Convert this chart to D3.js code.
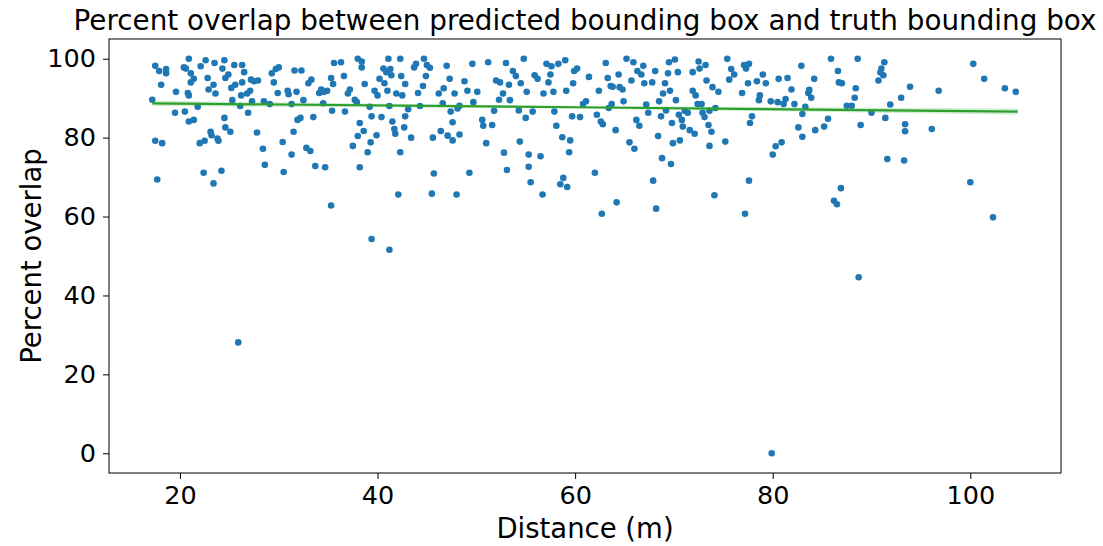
<!DOCTYPE html>
<html>
<head>
<meta charset="utf-8">
<script src="https://cdn.jsdelivr.net/npm/d3@7"></script>
<style>
  body { margin: 0; background: #fff; }
  svg { display: block; font-family: "DejaVu Sans", sans-serif; }
</style>
</head>
<body>
<div id="chart"></div>
<script>
// distance (m) of each detection
var distance = [
  17.2, 17.5, 17.5, 17.7, 17.9, 18.1, 18.2, 18.6, 18.6, 19.5, 19.6,
  20.4, 20.6, 20.5, 20.8, 20.9, 20.9, 21.1, 21.1, 21.4, 21.4, 20.9, 21.8, 22.0, 22.1, 22.4, 22.6, 22.5, 22.8, 22.9, 23.1, 23.2, 23.4, 23.5, 23.4, 23.6, 23.8,
  23.9, 24.2, 24.3, 24.5, 24.5, 24.6, 24.6, 24.9, 25.1, 25.2, 25.3, 25.5, 25.6, 25.9, 26.1, 26.2, 26.3, 26.3, 26.5, 26.8, 26.9, 27.1, 27.2, 27.3,
  27.5, 27.8, 27.9, 28.4, 28.5, 28.6, 29.1, 29.3, 29.5, 29.7, 30.0, 29.9, 30.4, 30.5, 30.9, 31.0, 31.3, 31.5, 31.3, 31.6,
  31.8, 31.9, 32.2, 32.3, 32.5, 32.8, 33.0, 33.2, 33.3, 33.5, 33.7, 34.1, 34.3, 34.5, 34.6, 34.7, 34.9, 35.3, 35.3, 35.4, 35.6, 35.5,
  36.3, 36.6, 36.7, 37.0, 37.2, 37.5, 37.7, 37.9, 38.0, 38.0, 38.2, 38.2, 38.4, 38.4, 38.6, 38.7, 39.0, 39.2, 39.3, 39.4, 39.4, 39.7, 39.9, 40.0,
  40.2, 40.4, 40.6, 40.7, 40.9, 41.0, 41.1, 41.2, 41.2, 41.3, 41.4, 41.5, 41.7, 41.8, 41.9, 42.1, 42.3, 42.3, 42.4, 42.5, 42.7, 42.8, 42.8, 43.1, 43.4, 43.7, 43.9, 44.1, 44.3,
  44.6, 44.7, 44.9, 45.0, 45.3, 45.5, 45.6, 45.7, 46.2, 46.4, 46.6, 46.7, 47.0, 47.1, 47.3, 47.4, 47.6, 47.6, 47.8, 48.0, 48.1, 48.3, 48.3,
  48.8, 49.1, 49.3, 49.6, 49.7, 50.1, 50.6, 50.7, 51.0, 51.2, 51.6, 51.8, 52.0, 52.3, 52.4, 52.7, 53.0, 52.8,
  53.1, 53.3, 53.4, 53.7, 54.0, 54.3, 54.4, 54.5, 54.8, 55.0, 55.1, 55.3, 55.3, 55.5, 55.7, 55.9, 56.2, 56.5, 56.7, 56.8, 57.1, 57.3,
  57.5, 57.6, 57.8, 57.9, 58.1, 58.3, 58.5, 58.7, 58.8, 59.0, 59.1, 59.2, 59.4, 59.5, 59.7, 59.8, 59.9, 60.2, 60.5, 60.8, 61.1, 61.4,
  62.0, 62.2, 62.4, 62.6, 62.7, 62.8, 63.1, 63.3, 63.4, 63.6, 63.7, 63.8, 64.1, 64.2, 64.4, 64.5, 64.8, 64.9, 65.2, 65.5, 65.7,
  65.9, 66.0, 66.2, 66.3, 66.5, 66.7, 66.9, 67.0, 67.2, 67.4, 67.8, 67.9, 68.1, 68.2, 68.4, 68.5, 68.7, 68.8, 68.9, 69.1, 69.2, 69.4, 69.5, 69.6, 69.7, 69.8, 69.9,
  70.1, 70.2, 70.4, 70.5, 70.6, 70.8, 70.9, 71.1, 71.4, 71.6, 71.9, 71.9, 72.1, 72.2, 72.4, 72.5, 72.6, 72.8, 72.9, 73.1, 73.2, 73.3, 73.5, 73.6, 73.8, 73.9, 74.1, 74.2, 73.6,
  74.5, 75.2, 75.4, 75.6, 75.8, 76.1, 76.9, 77.1, 77.2, 77.3, 77.5, 77.6, 77.6, 77.7, 77.9, 78.4, 78.6, 78.7, 79.0, 79.3, 79.8,
  79.9, 80.0, 80.3, 80.5, 80.6, 80.9, 81.1, 81.3, 81.5, 81.9, 82.2, 82.6, 82.9, 83.0, 83.0, 83.3, 83.6, 83.7, 83.9, 84.2, 84.3, 85.2, 85.6,
  85.9, 86.2, 86.5, 86.6, 86.7, 86.9, 87.0, 87.5, 88.0, 88.3, 88.4, 88.6, 88.7, 88.9, 90.0, 90.7, 90.9, 91.0, 91.2, 91.3, 91.4, 91.6, 91.9, 93.0, 93.3, 93.4, 93.4, 93.9,
  96.1, 96.8, 100.0, 100.3, 101.4, 102.3, 103.5, 104.6
];

// percent overlap for the same detections
var overlap = [
  89.6, 98.2, 79.2, 69.4, 96.9, 93.4, 78.6, 97.4, 96.3, 86.3, 91.6,
  97.8, 97.5, 86.6, 91.3, 100.0, 84.1, 94.0, 96.3, 84.5, 94.9, 90.7, 87.8, 78.6, 98.1, 71.1, 99.6, 79.2, 95.1, 92.2, 81.5, 80.6, 68.4, 98.9, 93.4, 91.2, 79.8,
  79.2, 71.6, 97.5, 99.6, 85.0, 95.1, 82.6, 96.0, 81.5, 92.6, 89.5, 98.4, 93.4, 28.1, 88.0, 90.7, 94.0, 98.4, 96.6, 91.2, 86.3, 91.9, 94.7, 89.2,
  94.3, 81.3, 94.5, 77.2, 89.2, 73.1, 88.5, 96.3, 94.0, 97.4, 97.8, 91.3, 78.9, 71.3, 91.9, 91.0, 75.7, 81.5, 88.5, 97.0,
  91.6, 84.5, 85.0, 97.0, 89.5, 77.4, 93.8, 76.6, 94.7, 85.2, 72.8, 91.3, 92.2, 88.7, 91.6, 72.5, 91.9, 62.8, 95.1, 86.8, 98.9, 93.6,
  99.1, 95.6, 86.6, 91.2, 92.2, 77.9, 89.6, 89.0, 100.0, 80.4, 72.5, 83.7, 99.3, 97.8, 81.7, 93.6, 76.3, 87.8, 78.8, 85.4, 54.3, 91.9, 80.6, 90.7,
  94.9, 85.2, 97.5, 93.8, 96.6, 91.9, 100.0, 88.0, 51.6, 97.4, 95.8, 84.1, 82.2, 81.0, 91.2, 65.6, 100.0, 76.3, 95.6, 90.7, 82.6, 85.4, 93.6, 87.2, 80.0, 97.8, 98.7, 91.3, 88.0,
  93.1, 100.0, 95.6, 98.4, 97.7, 65.8, 80.0, 70.9, 91.2, 81.7, 88.7, 92.5, 98.2, 80.5, 94.9, 86.6, 79.3, 83.9, 91.2, 65.6, 87.4, 88.1, 80.8,
  94.3, 91.9, 71.1, 98.7, 89.0, 91.6, 84.5, 83.0, 78.6, 99.1, 83.2, 86.8, 94.5, 89.6, 94.0, 91.2, 98.9, 76.2,
  71.8, 93.4, 89.5, 96.9, 95.6, 86.9, 79.0, 93.8, 100.0, 85.0, 91.6, 75.7, 72.6, 68.7, 86.6, 95.8, 94.9, 75.3, 65.6, 91.2, 98.7, 94.0,
  96.0, 98.1, 91.6, 86.6, 83.0, 98.7, 68.2, 80.1, 69.8, 99.6, 91.9, 67.5, 76.3, 79.3, 85.4, 93.8, 96.9, 97.5, 85.2, 88.5, 89.2, 95.4,
  71.1, 85.8, 91.9, 84.1, 60.7, 83.4, 98.9, 95.1, 87.5, 93.1, 88.5, 92.9, 81.9, 63.6, 96.0, 92.8, 92.2, 89.2, 100.0, 78.8, 94.5,
  99.1, 77.2, 84.5, 96.9, 83.0, 96.0, 98.2, 93.8, 88.4, 86.3, 94.0, 69.1, 96.9, 62.0, 80.4, 89.2, 85.4, 74.8, 91.2, 93.8, 86.9, 96.3, 99.1, 91.9, 73.3, 83.7, 78.6,
  99.8, 89.5, 96.6, 85.8, 79.3, 84.5, 82.8, 86.8, 86.3, 81.9, 96.6, 91.9, 81.0, 90.7, 88.5, 99.3, 97.5, 88.5, 86.3, 85.2, 98.4, 94.5, 83.2, 86.8, 81.5, 92.8, 65.4, 87.5, 77.9,
  91.6, 79.0, 100.0, 94.7, 97.4, 96.0, 91.3, 98.4, 60.7, 97.5, 93.8, 98.7, 69.1, 83.7, 85.4, 94.3, 89.5, 90.7, 96.0, 93.8, 89.2,
  0.0, 75.7, 77.8, 89.0, 94.9, 78.8, 88.5, 89.8, 95.1, 92.2, 88.5, 82.6, 98.2, 86.0, 80.2, 87.8, 91.3, 92.1, 90.1, 94.9, 81.9, 82.8, 84.8,
  100.0, 64.0, 63.1, 96.9, 94.0, 67.2, 93.8, 88.1, 88.1, 90.1, 92.5, 100.0, 44.6, 83.2, 86.3, 94.5, 96.5, 97.5, 95.8, 99.1, 85.0, 74.6, 88.4, 90.1, 74.2, 83.4, 81.6, 92.9,
  82.2, 91.9, 68.7, 98.7, 94.9, 59.8, 92.5, 91.6
];

// fitted trend line end points and its narrow confidence band
var fitX = [17.2, 60.0, 104.8];
var fitY = [88.7, 87.7, 86.6];
var fitBand = [0.7, 0.3, 0.8];

var xTicks = [20, 40, 60, 80, 100];
var yTicks = [0, 20, 40, 60, 80, 100];

var width = 1103, height = 546;
var margin = {top: 39, right: 42, bottom: 73, left: 109};

var svg = d3.select('#chart').append('svg')
    .attr('width', width)
    .attr('height', height);

var x = d3.scaleLinear().domain([12.82, 109.18]).range([margin.left, width - margin.right]);
var y = d3.scaleLinear().domain([-5, 105]).range([height - margin.bottom, margin.top]);

var pts = distance.map(function (d, i) { return [d, overlap[i]]; });

svg.append('g').selectAll('circle')
    .data(pts)
    .enter().append('circle')
    .attr('cx', function (d) { return x(d[0]); })
    .attr('cy', function (d) { return y(d[1]); })
    .attr('r', 3.3)
    .attr('fill', '#1f77b4');

var fit = fitX.map(function (d, i) { return {x: d, y: fitY[i], b: fitBand[i]}; });

svg.append('path')
    .datum(fit)
    .attr('fill', '#2ca02c')
    .attr('fill-opacity', 0.2)
    .attr('d', d3.area()
        .x(function (d) { return x(d.x); })
        .y0(function (d) { return y(d.y - d.b); })
        .y1(function (d) { return y(d.y + d.b); }));

svg.append('path')
    .datum(fit)
    .attr('fill', 'none')
    .attr('stroke', '#2ca02c')
    .attr('stroke-width', 2.2)
    .attr('d', d3.line()
        .x(function (d) { return x(d.x); })
        .y(function (d) { return y(d.y); }));

// frame
svg.append('rect')
    .attr('x', margin.left)
    .attr('y', margin.top)
    .attr('width', width - margin.left - margin.right)
    .attr('height', height - margin.top - margin.bottom)
    .attr('fill', 'none')
    .attr('stroke', '#000')
    .attr('stroke-width', 1);

var xAxis = svg.append('g')
    .attr('transform', 'translate(0,' + (height - margin.bottom) + ')')
    .call(d3.axisBottom(x).tickValues(xTicks).tickSize(6).tickPadding(7));

var yAxis = svg.append('g')
    .attr('transform', 'translate(' + margin.left + ',0)')
    .call(d3.axisLeft(y).tickValues(yTicks).tickSize(6).tickPadding(7));

[xAxis, yAxis].forEach(function (g) {
    g.select('.domain').remove();
    g.selectAll('line').attr('stroke', '#000');
    g.selectAll('text')
        .attr('fill', '#000')
        .style('font-family', '"DejaVu Sans", sans-serif')
        .style('font-size', '25.5px');
});

svg.append('text')
    .attr('x', (margin.left + width - margin.right) / 2)
    .attr('y', 30)
    .attr('text-anchor', 'middle')
    .style('font-size', '27.8px')
    .text('Percent overlap between predicted bounding box and truth bounding box');

svg.append('text')
    .attr('x', (margin.left + width - margin.right) / 2)
    .attr('y', 538)
    .attr('text-anchor', 'middle')
    .style('font-size', '27.5px')
    .text('Distance (m)');

svg.append('text')
    .attr('transform', 'translate(41,' + y(50) + ') rotate(-90)')
    .attr('text-anchor', 'middle')
    .style('font-size', '27.5px')
    .text('Percent overlap');
</script>
</body>
</html>
